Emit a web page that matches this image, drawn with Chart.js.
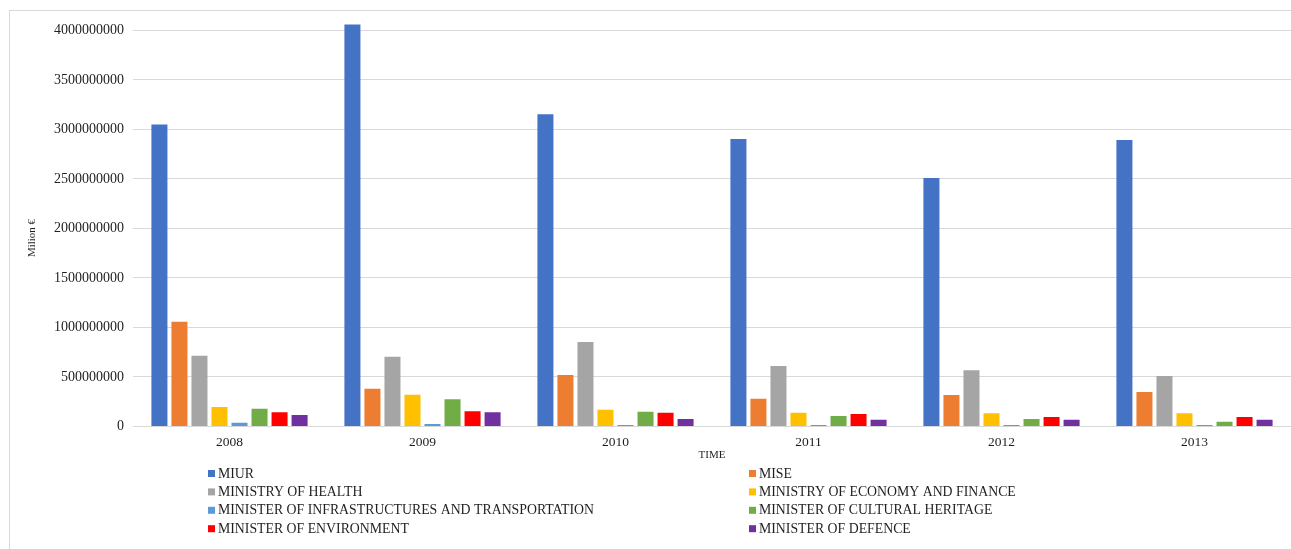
<!DOCTYPE html>
<html>
<head>
<meta charset="utf-8">
<script src="https://cdn.jsdelivr.net/npm/chart.js@4/dist/chart.umd.min.js"></script>
<style>
  html, body { margin: 0; padding: 0; background: #ffffff; overflow: hidden; }
  #frame { position: absolute; left: 9px; top: 10px; width: 1400px; height: 700px; border: 1px solid #d9d9d9; box-sizing: border-box; }
  #wrap { position: absolute; left: 0; top: 0; width: 1291px; height: 549px; }
</style>
</head>
<body>
<div id="frame"></div>
<div id="wrap"><canvas id="c" width="1291" height="549"></canvas></div>
<script>
// ---- Data ----
const years = ['2008', '2009', '2010', '2011', '2012', '2013'];
const seriesNames = [
  'MIUR',
  'MISE',
  'MINISTRY OF HEALTH',
  'MINISTRY OF ECONOMY AND FINANCE',
  'MINISTER OF INFRASTRUCTURES AND TRANSPORTATION',
  'MINISTER OF CULTURAL HERITAGE',
  'MINISTER OF ENVIRONMENT',
  'MINISTER OF DEFENCE'
];
const miur        = [3050000000, 4060000000, 3155000000, 2905000000, 2510000000, 2893000000];
const mise        = [1057000000, 380000000, 519000000, 280000000, 317000000, 347000000];
const health      = [714000000, 704000000, 852000000, 610000000, 567000000, 509000000];
const economy     = [196000000, 320000000, 169000000, 138000000, 132000000, 132000000];
const infra       = [37000000, 24000000, 14000000, 14000000, 14000000, 14000000];
const cultural    = [179000000, 274000000, 148000000, 105000000, 74000000, 47000000];
const environment = [142000000, 153000000, 138000000, 125000000, 95000000, 95000000];
const defence     = [115000000, 143000000, 75000000, 68000000, 68000000, 68000000];
const yTicks = [0, 500000000, 1000000000, 1500000000, 2000000000, 2500000000, 3000000000, 3500000000, 4000000000];
const yTitle = 'Milion €';
const xTitle = 'TIME';

const colors = ['#4472C4', '#ED7D31', '#A5A5A5', '#FFC000', '#5B9BD5', '#70AD47', '#FF0000', '#7030A0'];
const allSeries = [miur, mise, health, economy, infra, cultural, environment, defence];

const FONT = "'Liberation Serif', 'Times New Roman', serif";
const TEXT = '#1f1f1f';

// Two-column legend below the chart (Excel style)
const legendPlugin = {
  id: 'twoColLegend',
  afterDraw(chart) {
    const ctx = chart.ctx;
    const colX = [208, 749];
    const rowY0 = 473.5, rowStep = 18.4, box = 7;
    ctx.save();
    ctx.font = '13.8px ' + FONT;
    ctx.textBaseline = 'middle';
    ctx.textAlign = 'left';
    chart.data.datasets.forEach((ds, i) => {
      const col = i % 2, row = Math.floor(i / 2);
      const x = colX[col], y = rowY0 + row * rowStep;
      ctx.fillStyle = ds.backgroundColor;
      ctx.fillRect(x, y - box / 2, box, box);
      ctx.fillStyle = TEXT;
      ctx.fillText(ds.label, x + box + 3, y + 0.5);
    });
    ctx.restore();
  }
};

// Vertical axis title, placed like the Excel original (slightly below centre)
const yTitlePlugin = {
  id: 'yTitle',
  afterDraw(chart) {
    const ctx = chart.ctx;
    ctx.save();
    ctx.translate(32, 238);
    ctx.rotate(-Math.PI / 2);
    ctx.font = '11px ' + FONT;
    ctx.fillStyle = TEXT;
    ctx.textAlign = 'center';
    ctx.textBaseline = 'middle';
    ctx.fillText(yTitle, 0, 0);
    ctx.restore();
  }
};

new Chart(document.getElementById('c'), {
  type: 'bar',
  data: {
    labels: years,
    datasets: seriesNames.map((name, i) => ({
      label: name,
      data: allSeries[i],
      backgroundColor: colors[i],
      borderWidth: 0,
      categoryPercentage: 0.83,
      barPercentage: 0.8
    }))
  },
  options: {
    responsive: false,
    animation: false,
    layout: { padding: { left: 9, right: 0, top: 20.6, bottom: 87 } },
    plugins: { legend: { display: false }, tooltip: { enabled: false } },
    scales: {
      x: {
        grid: { display: false, drawTicks: false },
        border: { display: true, color: '#d9d9d9', width: 1 },
        afterFit: (scale) => { scale.height = 35.6; },
        ticks: { font: { family: FONT, size: 13.5 }, color: TEXT, padding: 8 },
        title: { display: true, text: xTitle, font: { family: FONT, size: 11 }, color: TEXT, padding: { top: 1, bottom: 0 } }
      },
      y: {
        min: 0,
        max: 4100000000,
        grid: { color: '#d9d9d9', lineWidth: 1, drawTicks: false },
        border: { display: false },
        afterBuildTicks: (scale) => { scale.ticks = yTicks.map(v => ({ value: v })); },
        afterFit: (scale) => { scale.width = 124; },
        ticks: {
          font: { family: FONT, size: 14 }, color: TEXT, padding: 9,
          callback: (v) => String(v)
        },
        title: { display: false, text: yTitle }
      }
    }
  },
  plugins: [legendPlugin, yTitlePlugin]
});
</script>
</body>
</html>
